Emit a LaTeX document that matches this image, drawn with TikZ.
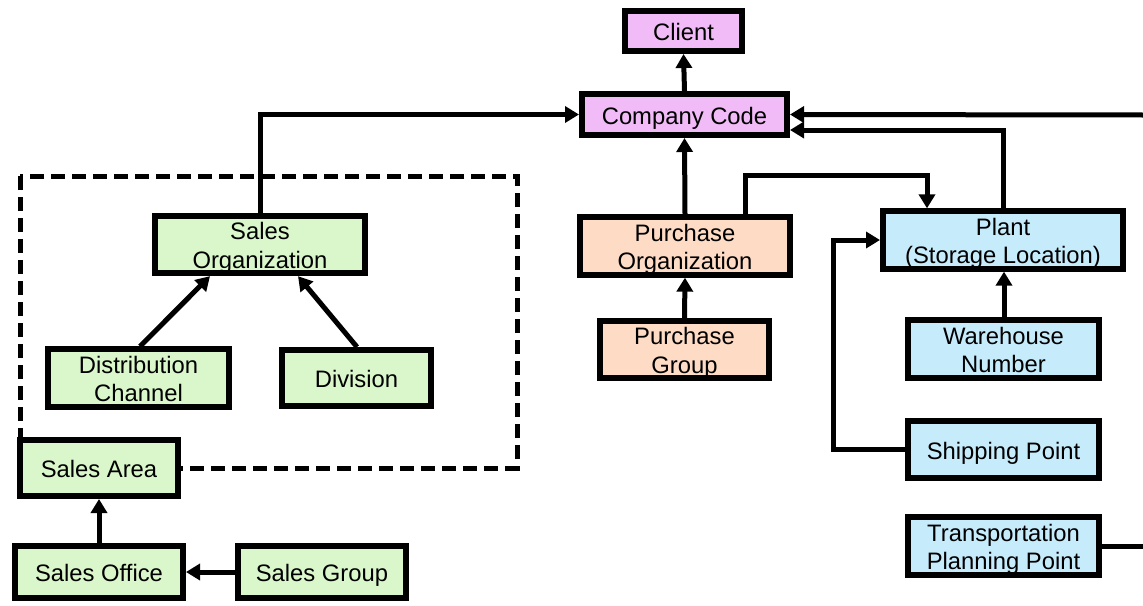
\documentclass[tikz,border=0pt]{standalone}
\usepackage{fontspec}
\setmainfont{Liberation Sans}
\usetikzlibrary{arrows.meta}
\definecolor{cpink}{RGB}{241,187,247}
\definecolor{cgreen}{RGB}{218,246,203}
\definecolor{cpeach}{RGB}{253,219,196}
\definecolor{cblue}{RGB}{198,236,252}
\newcommand{\hs}{\rule{0pt}{24pt}}
\newcommand{\ds}{\rule[-5pt]{0pt}{0pt}}
\tikzset{
  box/.style={draw=black, line width=6pt, rectangle, inner sep=0pt, align=center,
    font=\fontsize{23.8}{28.3}\selectfont, text=black},
  bx/.style 2 args={box, minimum width=#1pt-6pt, minimum height=#2pt-6pt},
  arr/.style={line width=5pt, -{Triangle[length=14pt,width=16pt]}},
  ln/.style={line width=5pt},
  dashbox/.style={line width=5pt, dash pattern=on 14pt off 7pt},
}
\begin{document}
\begin{tikzpicture}[x=1pt,y=-1pt]
\useasboundingbox (0,0) rectangle (1143,605);
% dashed group
\draw[dashbox] (20,176) rectangle (517,468);
% nodes
\node[bx={123}{46}, fill=cpink] (client) at (683.5,31) {\hs Client\ds};
\node[bx={211}{47}, fill=cpink] (company) at (684.5,114.5) {\hs Company Code\ds};
\node[bx={216}{63}, fill=cgreen] (salesorg) at (260,244.5) {\hs Sales\\Organization\ds};
\node[bx={187}{62}, fill=cgreen] (distch) at (138.5,378) {\hs Distribution\\Channel\ds};
\node[bx={155}{62}, fill=cgreen] (division) at (356.5,378) {\hs Division\ds};
\node[bx={164}{62}, fill=cgreen] (salesarea) at (99,468) {\hs Sales Area\ds};
\node[bx={174}{58}, fill=cgreen] (salesoffice) at (99,572) {\hs Sales Office\ds};
\node[bx={174}{58}, fill=cgreen] (salesgroup) at (322,572) {\hs Sales Group\ds};
\node[bx={216}{62}, fill=cpeach] (purchorg) at (685,246) {\hs Purchase\\Organization\ds};
\node[bx={175}{61}, fill=cpeach] (purchgroup) at (684.5,349.5) {\hs Purchase\\Group\ds};
\node[bx={246}{62}, fill=cblue] (plant) at (1003,240) {\hs Plant\\(Storage Location)\ds};
\node[bx={197}{62}, fill=cblue] (warehouse) at (1003.5,349) {\hs Warehouse\\Number\ds};
\node[bx={197}{63}, fill=cblue] (shipping) at (1003.5,449.5) {\hs Shipping Point\ds};
\node[bx={197}{62}, fill=cblue] (transport) at (1003.5,546) {\hs Transportation\\Planning Point\ds};
\coordinate (redgeA) at (1143,115);
\coordinate (redgeB) at (1143,546);
% connectors
\draw[arr] (company.north) -- (client.south);
\draw[arr] (salesorg.north) |- (company.west);
\draw[arr] (purchorg.north) -- (company.south);
\draw[arr] (redgeA) -- (company.east);
\draw[arr] ([xshift=0.5pt]plant.north) |- ([yshift=-15.5pt]company.east);
\draw[arr] ([xshift=60pt]purchorg.north) -- ++(0,-39) -| ([xshift=-76pt]plant.north);
\draw[arr] (purchgroup.north) -- (purchorg.south);
\draw[arr] ([xshift=0.5pt]warehouse.north) -- ([xshift=1pt]plant.south);
\draw[arr] (shipping.west) -- ++(-72,0) |- (plant.west);
\draw[ln] (transport.east) -- (redgeB);
\draw[arr] ([xshift=1.5pt]distch.north) -- ([xshift=-50pt]salesorg.south);
\draw[arr] ([xshift=0.5pt]division.north) -- ([xshift=38pt]salesorg.south);
\draw[arr] (salesoffice.north) -- (salesarea.south);
\draw[arr] (salesgroup.west) -- (salesoffice.east);
\end{tikzpicture}
\end{document}
